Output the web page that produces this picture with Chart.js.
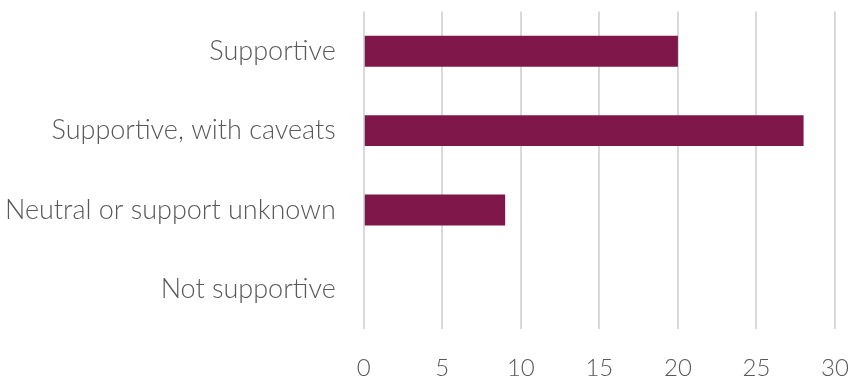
<!DOCTYPE html>
<html>
<head>
<meta charset="utf-8">
<script src="https://cdn.jsdelivr.net/npm/chart.js@4"></script>
<style>
  html, body { margin: 0; padding: 0; background: #fff; }
  canvas { display: block; }
</style>
</head>
<body>
<canvas id="supportChart" width="851" height="383"></canvas>
<script>
// Chart data
const categories = ['Supportive', 'Supportive, with caveats', 'Neutral or support unknown', 'Not supportive'];
const counts = [20, 28, 9, 0];
const xTicks = [0, 5, 10, 15, 20, 25, 30];

const barColor = '#80174a';
const textColor = '#595959';
const gridColor = '#d9d9d9';

Chart.defaults.font.family = "'Lato', 'Open Sans', sans-serif";
Chart.defaults.font.weight = 300;

const ctx = document.getElementById('supportChart').getContext('2d');
new Chart(ctx, {
  type: 'bar',
  data: {
    labels: categories,
    datasets: [{
      data: counts,
      backgroundColor: barColor,
      barPercentage: 0.78,
      categoryPercentage: 0.5
    }]
  },
  options: {
    indexAxis: 'y',
    responsive: false,
    animation: false,
    layout: { padding: { top: 11, right: 16, left: 5, bottom: 0 } },
    plugins: { legend: { display: false }, tooltip: { enabled: false } },
    scales: {
      x: {
        min: 0,
        max: 30,
        afterBuildTicks: axis => { axis.ticks = xTicks.map(v => ({ value: v })); },
        // tick marks are kept invisible; their length gives the gap under the plot
        grid: { color: gridColor, lineWidth: 2, drawTicks: true, tickLength: 25, tickColor: 'rgba(0,0,0,0)' },
        border: { display: false },
        ticks: { color: textColor, padding: 0, font: { size: 24, weight: 300 } }
      },
      y: {
        grid: { display: false, drawTicks: true, tickLength: 28 },
        border: { display: false },
        ticks: { color: textColor, padding: 0, font: { size: 27, weight: 300, lineHeight: 0.85 } }
      }
    }
  }
});
</script>
</body>
</html>
